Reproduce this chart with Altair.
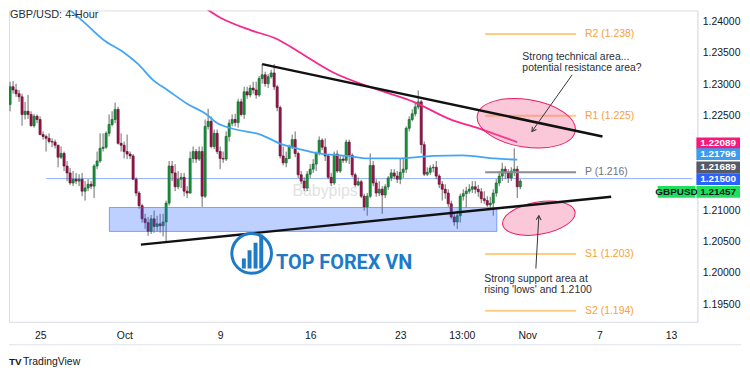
import altair as alt
import pandas as pd

# ---------------- data (prices in pips: price x 10000) ----------------
opens = [12268,12296,12291,12285,12280,12252,12257,12252,12234,12249,
         12244,12220,12217,12214,12209,12208,12203,12184,12190,12170,
         12159,12143,12149,12146,12149,12130,12135,12141,12138,12170,
         12178,12198,12200,12222,12236,12244,12260,12206,12203,12193,
         12189,12186,12149,12127,12107,12086,12080,12066,12086,12074,
         12078,12075,12081,12111,12170,12159,12137,12149,12152,12130,
         12127,12182,12193,12181,12193,12122,12233,12241,12201,12222,
         12193,12182,12181,12217,12238,12244,12239,12272,12252,12288,
         12283,12294,12291,12283,12309,12315,12301,12312,12318,12296,
         12263,12186,12175,12182,12200,12212,12190,12156,12146,12135,
         12157,12165,12173,12190,12211,12200,12186,12152,12143,12189,
         12162,12181,12179,12208,12187,12156,12140,12145,12122,12105,
         12122,12171,12143,12127,12133,12124,12137,12151,12159,12154,
         12149,12160,12165,12230,12244,12253,12264,12272,12204,12157,
         12160,12167,12168,12154,12141,12133,12127,12110,12089,12081,
         12091,12122,12126,12130,12133,12137,12133,12129,12118,12115,
         12108,12111,12127,12143,12154,12165,12159,12151,12162,12165,
         12137]
highs = [12304,12305,12301,12291,12285,12272,12283,12257,12253,12252,
         12249,12225,12220,12222,12214,12212,12204,12201,12193,12178,
         12167,12162,12159,12157,12159,12146,12149,12146,12173,12193,
         12222,12222,12225,12252,12257,12271,12264,12222,12209,12220,
         12193,12189,12152,12130,12110,12094,12089,12092,12099,12091,
         12094,12094,12115,12178,12178,12173,12162,12159,12159,12138,
         12193,12201,12197,12201,12201,12244,12261,12249,12228,12228,
         12201,12193,12225,12244,12252,12253,12277,12277,12296,12296,
         12299,12304,12304,12313,12332,12320,12316,12323,12332,12299,
         12266,12201,12193,12204,12220,12225,12193,12162,12152,12162,
         12173,12181,12193,12217,12214,12214,12189,12159,12193,12195,
         12186,12186,12212,12212,12190,12159,12152,12148,12126,12127,
         12190,12178,12149,12146,12138,12141,12154,12165,12165,12162,
         12182,12181,12233,12249,12260,12272,12290,12275,12209,12168,
         12171,12173,12178,12157,12146,12141,12133,12115,12096,12099,
         12126,12133,12137,12141,12146,12146,12140,12135,12130,12122,
         12121,12133,12149,12162,12175,12170,12165,12168,12198,12170,
         12149]
lows = [12257,12285,12280,12272,12234,12244,12245,12233,12231,12238,
        12219,12212,12193,12206,12200,12198,12168,12181,12162,12146,
        12140,12138,12141,12138,12122,12115,12130,12133,12119,12165,
        12175,12193,12197,12217,12233,12238,12204,12193,12182,12181,
        12181,12148,12122,12102,12080,12070,12059,12062,12064,12066,
        12064,12058,12048,12107,12146,12130,12133,12135,12122,12119,
        12126,12175,12175,12178,12105,12119,12228,12198,12197,12189,
        12165,12175,12178,12209,12233,12233,12231,12249,12245,12277,
        12279,12285,12277,12280,12301,12296,12294,12309,12291,12257,
        12182,12171,12168,12181,12197,12184,12151,12141,12130,12130,
        12151,12159,12162,12187,12195,12178,12149,12138,12140,12159,
        12159,12175,12175,12173,12152,12137,12138,12119,12099,12091,
        12119,12138,12121,12122,12094,12119,12132,12146,12149,12143,
        12141,12151,12159,12225,12241,12249,12260,12190,12154,12154,
        12156,12160,12149,12135,12115,12118,12105,12086,12075,12070,
        12080,12115,12104,12126,12127,12126,12121,12111,12110,12105,
        12104,12091,12121,12138,12146,12149,12143,12146,12154,12119,
        12133]
closes = [12296,12291,12285,12280,12252,12257,12252,12234,12249,12244,
          12220,12217,12214,12209,12208,12203,12184,12190,12170,12159,
          12143,12149,12146,12149,12130,12135,12141,12138,12170,12178,
          12198,12200,12222,12236,12244,12260,12206,12203,12193,12189,
          12186,12149,12127,12107,12086,12080,12066,12086,12074,12078,
          12075,12081,12111,12170,12159,12137,12149,12152,12130,12127,
          12182,12193,12181,12193,12122,12233,12241,12201,12222,12193,
          12182,12181,12217,12238,12244,12239,12272,12252,12288,12283,
          12294,12291,12283,12309,12315,12301,12312,12318,12296,12263,
          12186,12175,12182,12200,12212,12190,12156,12146,12135,12157,
          12165,12173,12190,12211,12200,12186,12152,12143,12189,12162,
          12181,12179,12208,12187,12156,12140,12145,12122,12105,12122,
          12171,12143,12127,12133,12124,12137,12151,12159,12154,12149,
          12160,12165,12230,12244,12253,12264,12272,12204,12157,12160,
          12167,12168,12154,12141,12133,12127,12110,12089,12081,12091,
          12122,12126,12130,12133,12137,12133,12129,12118,12115,12108,
          12111,12127,12143,12154,12165,12159,12151,12162,12165,12137,
          12146]

# moving averages (bar index, pips)
ma_blue_idx = [15, 24.8, 31.3, 37.8, 42.7, 47.6, 52.4, 59, 65.5, 68.7, 73.6, 83.4,
               90.9, 96.4, 102.9, 112.7, 119.2, 129, 141, 150.8, 161.6, 169]
ma_blue_pips = [12438, 12398, 12370, 12351, 12332, 12307, 12291, 12269, 12252, 12239,
                12230, 12220, 12204, 12197, 12190, 12186, 12182, 12182, 12186, 12187,
                12182, 12180]
ma_pink_idx = [57.3, 61.9, 70.4, 80.1, 88.9, 96.4, 107.2, 121.5, 134.5, 146.3, 157.3, 169]
ma_pink_pips = [12439, 12430, 12405, 12386, 12372, 12351, 12320, 12293, 12272, 12245,
                12228, 12208]

# x-axis ticks (bar index) and labels
tick_idx = [10.1, 38.1, 70.0, 100.0, 130.0, 150.5, 172.3, 196.4, 220.2]
tick_lab = ["25", "Oct", "9", "16", "23", "13:00", "Nov", "7", "13"]
price_ticks = [1.195, 1.200, 1.205, 1.210, 1.225, 1.230, 1.235, 1.240]

# pivot levels
piv_names = ["R2 (1.238)", "R1 (1.225)", "P (1.216)", "S1 (1.203)", "S2 (1.194)"]
piv_vals = [1.238, 1.225, 1.216, 1.203, 1.194]
piv_line_col = ["#ffcc80", "#ffcc80", "#8a8d96", "#ffcc80", "#ffcc80"]
piv_text_col = ["#f7a13a", "#f7a13a", "#6f727b", "#f7a13a", "#f7a13a"]
piv_x0, piv_x1, piv_lab_x = 158.3, 188.6, 191.6

# trendlines (bar index, price)
upper_tl_idx = [84, 197.4]
upper_tl_px = [1.2332, 1.2217]
lower_tl_idx = [43.6, 200.3]
lower_tl_px = [1.2045, 1.2121]

# support zone
zone_idx = [33.1, 162.2]
zone_px = [1.2104, 1.2066]

# right-side price boxes
box_text = ["1.22089", "1.21796", "1.21689", "1.21500", "1.21457"]
box_pos = [1.2206, 1.2189, 1.2168, 1.2149, 1.2129]
box_fill = ["#f7187a", "#3c9cf0", "#555a66", "#2962ff", "#1fe05c"]
box_tcol = ["#ffffff", "#ffffff", "#ffffff", "#ffffff", "#131722"]

# ---------------- build ----------------
W, H = 694, 314
XS = alt.Scale(domain=[1.3, 227.36], nice=False, zero=False)
YS = alt.Scale(domain=[1.19221, 1.241735], nice=False, zero=False)
FONT = "Liberation Sans"

label_expr = " : ".join(f"datum.value == {v} ? '{l}'" for v, l in zip(tick_idx, tick_lab)) + " : ''"
AX = alt.Axis(values=tick_idx, labelExpr=label_expr, grid=False, ticks=False,
              domainColor="#e0e3eb", labelColor="#131722", labelFontSize=10.5,
              labelFont=FONT, labelPadding=9, title=None, labelFlush=False,
              labelOverlap=False)
AY = alt.Axis(orient="right", values=price_ticks, format=".5f", grid=False, ticks=False,
              domainColor="#e0e3eb", labelColor="#131722", labelFontSize=10.5,
              labelFont=FONT, labelPadding=5, title=None, labelFlush=False,
              labelOverlap=False)


def X(f):
    return alt.X(f, type="quantitative", scale=XS, axis=AX)


def Y(f):
    return alt.Y(f, type="quantitative", scale=YS, axis=AY)


cd = pd.DataFrame({
    "i": list(range(len(opens))),
    "o": [v / 1e4 for v in opens],
    "h": [v / 1e4 for v in highs],
    "l": [v / 1e4 for v in lows],
    "c": [v / 1e4 for v in closes],
})
cd["dir"] = ["up" if c >= o else "down" for o, c in zip(cd["o"], cd["c"])]

wicks = alt.Chart(cd).mark_rule(color="#6b6b6b", strokeWidth=1, clip=True).encode(
    x=X("i"), y=Y("l"), y2="h:Q")
bodies = alt.Chart(cd).mark_bar(width=2.2, clip=True, strokeWidth=0.6).encode(
    x=X("i"), y=Y("o"), y2="c:Q",
    color=alt.Color("dir:N", scale=alt.Scale(domain=["up", "down"], range=["#17963a", "#a0124c"]), legend=None),
    stroke=alt.Stroke("dir:N", scale=alt.Scale(domain=["up", "down"], range=["#0c5e24", "#5e0a2c"]), legend=None),
)

wm = alt.Chart(pd.DataFrame({"x": [94.1], "y": [1.2130], "t": ["Babypips"]})).mark_text(
    align="left", baseline="middle", fontSize=16, font=FONT, color="#e2e2e2").encode(
    x=X("x"), y=Y("y"), text="t:N")

hline = alt.Chart(pd.DataFrame({"x": [12.0], "x2": [227.36], "y": [1.215]})).mark_rule(
    color="#2962ff", opacity=0.5, strokeWidth=1).encode(x=X("x"), x2="x2:Q", y=Y("y"))

zone = alt.Chart(pd.DataFrame({"x": [zone_idx[0]], "x2": [zone_idx[1]], "y": [zone_px[0]], "y2": [zone_px[1]]})).mark_rect(
    fill="#2962ff", fillOpacity=0.3, stroke="#2962ff", strokeOpacity=0.55, strokeWidth=1).encode(
    x=X("x"), x2="x2:Q", y=Y("y"), y2="y2:Q")

mab = alt.Chart(pd.DataFrame({"i": ma_blue_idx, "p": [v / 1e4 for v in ma_blue_pips]})).mark_line(
    color="#42a5f5", strokeWidth=1.8, interpolate="monotone", clip=True).encode(x=X("i"), y=Y("p"))
map_ = alt.Chart(pd.DataFrame({"i": ma_pink_idx, "p": [v / 1e4 for v in ma_pink_pips]})).mark_line(
    color="#f5288c", strokeWidth=1.8, interpolate="monotone", clip=True).encode(x=X("i"), y=Y("p"))

pv = pd.DataFrame({"n": piv_names, "v": piv_vals, "lc": piv_line_col, "tc": piv_text_col,
                   "x0": [piv_x0] * 5, "x1": [piv_x1] * 5, "lx": [piv_lab_x] * 5})
pv_lines = alt.Chart(pv).mark_rule(strokeWidth=2).encode(
    x=X("x0"), x2="x1:Q", y=Y("v"), color=alt.Color("lc:N", scale=None))
pv_text = alt.Chart(pv).mark_text(align="left", baseline="middle", fontSize=10.5, font=FONT).encode(
    x=X("lx"), y=Y("v"), text="n:N", color=alt.Color("tc:N", scale=None))

tl = pd.DataFrame({"x": [upper_tl_idx[0], lower_tl_idx[0]], "x2": [upper_tl_idx[1], lower_tl_idx[1]],
                   "y": [upper_tl_px[0], lower_tl_px[0]], "y2": [upper_tl_px[1], lower_tl_px[1]]})
tlines = alt.Chart(tl).mark_rule(color="#111111", strokeWidth=2.5).encode(
    x=X("x"), x2="x2:Q", y=Y("y"), y2="y2:Q")

ell_up_path = "M -1 0 A 1 0.48 0 1 0 1 0 A 1 0.48 0 1 0 -1 0 Z"
ell_dn_path = "M -1 0 A 1 0.44 0 1 0 1 0 A 1 0.44 0 1 0 -1 0 Z"
ell_up = alt.Chart(pd.DataFrame({"x": [172.0], "y": [1.2238]})).mark_point(
    shape=ell_up_path, size=10000, filled=True, fill="#f06292", fillOpacity=0.35, opacity=1,
    stroke="#e91e63", strokeWidth=1, angle=9).encode(x=X("x"), y=Y("y"))
ell_dn = alt.Chart(pd.DataFrame({"x": [176.2], "y": [1.2087]})).mark_point(
    shape=ell_dn_path, size=5476, filled=True, fill="#f06292", fillOpacity=0.35, opacity=1,
    stroke="#e91e63", strokeWidth=1, angle=350).encode(x=X("x"), y=Y("y"))

arr = pd.DataFrame({"x": [187.3, 175.2], "y": [1.2315, 1.2007], "x2": [173.9, 176.2], "y2": [1.2225, 1.2091]})
arr_lines = alt.Chart(arr).mark_rule(color="#333333", strokeWidth=1).encode(
    x=X("x"), x2="x2:Q", y=Y("y"), y2="y2:Q")
chev = "M -1 -0.6 L 0 0 L -1 0.6"
head_up = alt.Chart(pd.DataFrame({"x": [173.9], "y": [1.2225]})).mark_point(
    shape=chev, size=70, filled=False, stroke="#333333", strokeWidth=1, opacity=1, angle=125.7).encode(
    x=X("x"), y=Y("y"))
head_dn = alt.Chart(pd.DataFrame({"x": [176.2], "y": [1.2091]})).mark_point(
    shape=chev, size=70, filled=False, stroke="#333333", strokeWidth=1, opacity=1, angle=273).encode(
    x=X("x"), y=Y("y"))

notes = pd.DataFrame({
    "x": [170.7, 170.7, 158.0, 158.0],
    "y": [1.2343, 1.2326, 1.1990, 1.1973],
    "t": ["Strong technical area...", "potential resistance area?",
          "Strong support area at", "rising 'lows' and 1.2100"],
})
note_text = alt.Chart(notes).mark_text(align="left", baseline="middle", fontSize=10.5, font=FONT,
                                       color="#2a2e39").encode(x=X("x"), y=Y("y"), text="t:N")

# logo
logo_ring = alt.Chart(pd.DataFrame({"x": [80.5], "y": [1.2031]})).mark_point(
    shape="circle", size=1600, filled=False, stroke="#1d7ac9", strokeWidth=3, opacity=1).encode(
    x=X("x"), y=Y("y"))
logo_bars = alt.Chart(pd.DataFrame({"x": [77.9, 79.8, 81.8, 83.7], "y": [1.2007] * 4,
                                    "y2": [1.2023, 1.2036, 1.2048, 1.2061]})).mark_rule(
    color="#1d7ac9", strokeWidth=4).encode(x=X("x"), y=Y("y"), y2="y2:Q")
logo_text = alt.Chart(pd.DataFrame({"x": [88.6], "y": [1.2015], "t": ["TOP FOREX VN"]})).mark_text(
    align="left", baseline="middle", fontSize=20, font="Roboto", fontWeight="bold", color="#1d7ac9").encode(
    x=X("x"), y=Y("y"), text="t:N")

# right price boxes
bx = pd.DataFrame({"t": box_text, "y": box_pos, "f": box_fill, "tc": box_tcol})
rect_path = "M -1 -0.27 L 1 -0.27 L 1 0.27 L -1 0.27 Z"
box_bg = alt.Chart(bx).mark_point(shape=rect_path, size=44 * 44, filled=True, opacity=1).encode(
    x=alt.value(W + 21), y=Y("y"), color=alt.Color("f:N", scale=None))
box_tx = alt.Chart(bx).mark_text(align="center", baseline="middle", fontSize=10, font=FONT,
                                 fontWeight="bold").encode(
    x=alt.value(W + 21), y=Y("y"), text="t:N", color=alt.Color("tc:N", scale=None))
sym = pd.DataFrame({"t": ["GBPUSD"], "y": [box_pos[-1]]})
sym_path = "M -1 -0.31 L 1 -0.31 L 1 0.31 L -1 0.31 Z"
sym_bg = alt.Chart(sym).mark_point(shape=sym_path, size=38 * 38, filled=True, opacity=1,
                                   color=box_fill[-1]).encode(x=alt.value(W - 21), y=Y("y"))
sym_tx = alt.Chart(sym).mark_text(align="center", baseline="middle", fontSize=10, font=FONT,
                                  fontWeight="bold", color="#131722").encode(
    x=alt.value(W - 21), y=Y("y"), text="t:N")

# frame texts
title = alt.Chart(pd.DataFrame({"t": ["GBP/USD: 4-Hour"]})).mark_text(
    align="left", baseline="middle", fontSize=11, font=FONT, color="#2a2e39").encode(
    x=alt.value(1), y=alt.value(5), text="t:N")
tv_icon = alt.Chart(pd.DataFrame({"t": ["TV"]})).mark_text(
    align="left", baseline="middle", fontSize=10, font=FONT, fontWeight="bold", color="#131722").encode(
    x=alt.value(0), y=alt.value(354), text="t:N")
tv_text = alt.Chart(pd.DataFrame({"t": ["TradingView"]})).mark_text(
    align="left", baseline="middle", fontSize=10.5, font=FONT, color="#131722").encode(
    x=alt.value(14), y=alt.value(354), text="t:N")
bottom_rule = alt.Chart(pd.DataFrame({"a": [0]})).mark_rule(color="#e0e3eb", strokeWidth=1).encode(
    x=alt.value(0), x2=alt.value(W + 44), y=alt.value(337))

chart = alt.layer(
    wm, hline, wicks, bodies, zone, mab, map_, pv_lines, pv_text, ell_up, ell_dn, tlines,
    arr_lines, head_up, head_dn, note_text, logo_ring, logo_bars, logo_text,
    box_bg, box_tx, sym_bg, sym_tx, title, tv_icon, tv_text, bottom_rule,
).properties(width=W, height=H, padding=0).configure_view(stroke="#e0e3eb").configure(background="white")

chart.save("out.html", embed_options={"renderer": "svg", "actions": False})
